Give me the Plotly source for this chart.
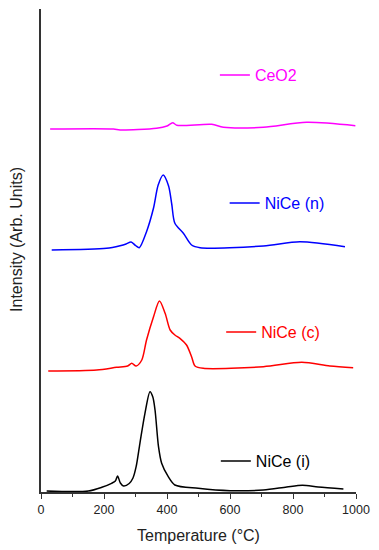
import plotly.graph_objects as go

# Temperature (°C) and intensity (arb. units, curves stacked with offsets as in the figure)
t_i = [18, 150, 193, 224, 236, 243, 252, 262, 280, 292, 302, 314, 330, 346, 355, 362, 373, 383, 404, 425, 499, 600, 706, 780, 830, 880, 960]
v_i = [1, 1, 4.7, 8.7, 11, 16, 9, 6, 8.5, 14, 25.3, 48.7, 78.7, 100.3, 95, 82, 45.3, 28.7, 15.3, 7, 3.7, 1.3, 2, 5, 6.7, 5, 3]

t_c = [23, 177, 240, 275, 288, 302, 320, 335, 357, 376, 394, 410, 425, 441, 462, 478, 489, 515, 706, 828, 917, 991]
v_c = [121, 122, 124.7, 126, 128.7, 126, 132, 152, 175, 191, 178.7, 162, 157, 153.7, 147, 135.3, 126, 123.7, 125.3, 129.7, 126, 124.3]

t_n = [34, 208, 251, 270, 286, 300, 312, 335, 357, 372, 388, 405, 415, 425, 452, 478, 505, 706, 822, 965]
v_n = [242, 243.7, 246.3, 248, 250, 246.5, 244.3, 260.3, 283.7, 307, 317, 306, 288, 268.7, 258.7, 247, 244.3, 246, 250.3, 245.3]

t_ce = [29, 230, 251, 367, 400, 418, 431, 542, 579, 706, 843, 998]
v_ce = [363, 363, 362, 363.7, 366, 369.3, 366.7, 367.7, 364.7, 364.7, 369.7, 366.3]

names = ["NiCe (i)", "NiCe (c)", "NiCe (n)", "CeO2"]
colors = ["#000000", "#FF0000", "#0000FF", "#FF00FF"]
legend_x = [0.555, 0.572, 0.583, 0.552]
legend_y = [0.064, 0.331, 0.598, 0.863]

FONT = "Arial, Liberation Sans, sans-serif"

fig = go.Figure()
series = [(t_i, v_i), (t_c, v_c), (t_n, v_n), (t_ce, v_ce)]
legend_ids = ["legend", "legend2", "legend3", "legend4"]
for (t, v), name, col, lid in zip(series, names, colors, legend_ids):
    fig.add_trace(go.Scatter(x=t, y=v, mode="lines", name=name,
                             line=dict(color=col, width=1.5, shape="spline", smoothing=0.8),
                             legend=lid))

layout_legends = {}
for lid, col, lx, ly in zip(legend_ids, colors, legend_x, legend_y):
    layout_legends[lid] = dict(x=lx, y=ly, xanchor="left", yanchor="middle",
                               bgcolor="rgba(0,0,0,0)", borderwidth=0,
                               font=dict(family=FONT, size=16, color=col),
                               itemwidth=30)

# page body has an 8px margin, so the figure is sized/offset to compensate
fig.update_layout(
    width=371, height=542,
    margin=dict(l=33, r=23, t=1, b=58),
    plot_bgcolor="white", paper_bgcolor="white",
    font=dict(family=FONT, color="#222"),
    showlegend=True,
    **layout_legends,
    xaxis=dict(range=[0, 1000], showgrid=False, zeroline=False,
               showline=True, linecolor="#333", linewidth=1.5,
               ticks="outside", ticklen=5, tickwidth=1.2, tickcolor="#333",
               tickvals=[0, 200, 400, 600, 800, 1000],
               tickfont=dict(family=FONT, size=12.5, color="#222"),
               minor=dict(tickvals=[100, 300, 500, 700, 900], ticks="outside",
                          ticklen=3, tickwidth=1.2, tickcolor="#333"),
               title=dict(text="Temperature (°C)", font=dict(family=FONT, size=16, color="#222"),
                          standoff=14)),
    yaxis=dict(range=[0, 483], showgrid=False, zeroline=False,
               showline=True, linecolor="#333", linewidth=1.5,
               showticklabels=False, ticks=""),
    annotations=[dict(text="Intensity (Arb. Units)", xref="paper", yref="paper",
                      x=-0.076, y=0.522, textangle=-90, showarrow=False,
                      xanchor="center", yanchor="middle",
                      font=dict(family=FONT, size=16, color="#222"))],
)

fig.write_html("out.html")
